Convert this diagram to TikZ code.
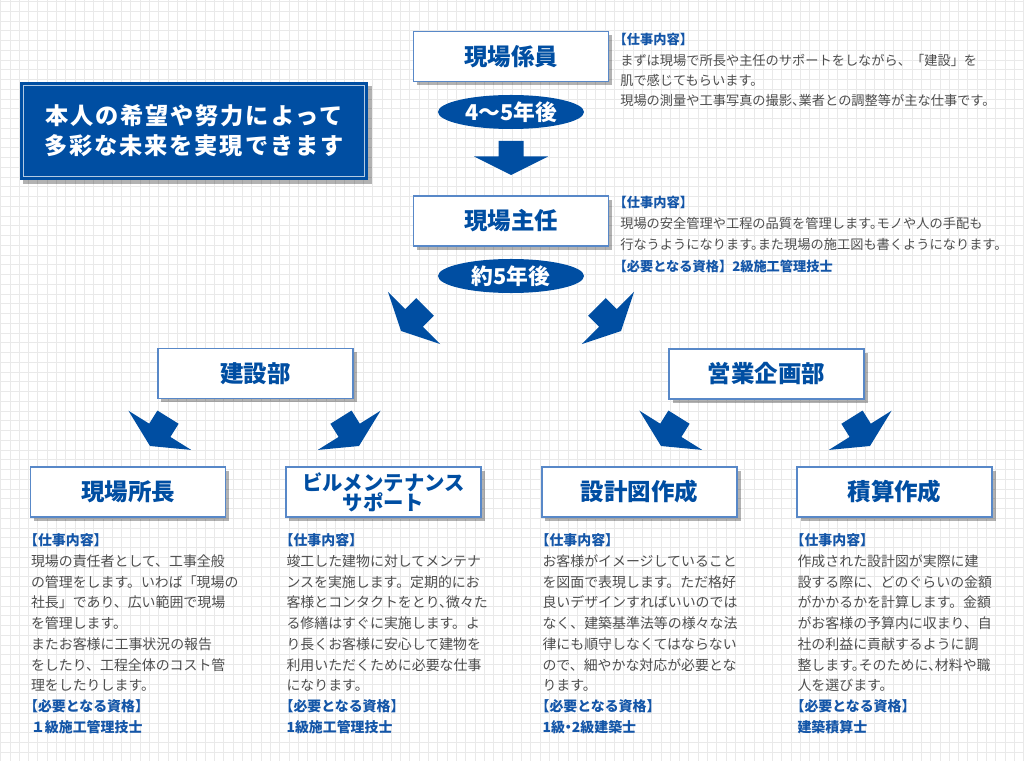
\documentclass[tikz,border=0pt]{standalone}
\usepackage{fontspec}
\setmainfont{Noto Sans CJK JP}
\usetikzlibrary{calc,shapes.geometric,shadows}

\definecolor{mainblue}{RGB}{0,78,162}
\definecolor{boxline}{RGB}{88,136,200}
\definecolor{bodygray}{RGB}{78,78,78}
\definecolor{labelblue}{RGB}{20,86,168}
\definecolor{gridgray}{RGB}{233,233,233}

%% blue headings inside the text blocks
\newcommand{\lbl}[1]{{\color{labelblue}\bfseries\addfontfeature{RawFeature=+halt}#1}}
%% line with half-width punctuation
\newcommand{\tight}[1]{{\addfontfeature{RawFeature=+halt}#1}}

%% fan-shaped block arrow: tip at #1, pointing to angle #2
\newcommand{\fanarrow}[2]{%
  \fill[mainblue, shift={#1}, rotate=#2]
    (0,0) -- (-18.5,37) -- (-18.5,12.5) -- (-34,12.5)
    -- (-34,-12.5) -- (-18.5,-12.5) -- (-18.5,-37) -- cycle;}

\tikzset{
  gridline/.style={gridgray, line width=0.7pt},
  jobbox/.style={draw=boxline, line width=1pt, fill=white,
    minimum width=4.875cm, minimum height=1.25cm, inner sep=0pt,
    text=mainblue, font=\fontsize{16.7pt}{18pt}\selectfont\bfseries,
    drop shadow={shadow xshift=2.5pt, shadow yshift=-2.5pt,
      opacity=0.3, fill=black}},
  yearpill/.style={ellipse, fill=mainblue, inner sep=0pt,
    minimum width=3.65cm, minimum height=0.85cm,
    text=white, font=\fontsize{15.5pt}{16pt}\selectfont\bfseries},
  topline/.style={anchor=base west, inner sep=0pt, text=bodygray,
    font=\fontsize{9.4pt}{11pt}\selectfont},
  lowline/.style={anchor=base west, inner sep=0pt, text=bodygray,
    font=\fontsize{9.9pt}{11pt}\selectfont},
}

\begin{document}
\begin{tikzpicture}[x=0.025cm, y=-0.025cm]
  \useasboundingbox (0,0) rectangle (1024,761);
  \fill[white] (0,0) rectangle (1024,761);

  %% background grid
  \foreach \k in {0,...,110}
    \draw[gridline] ({0.7+9.3*\k},0) -- ({0.7+9.3*\k},761);
  \foreach \k in {0,...,78}
    \draw[gridline] (0,{1.7+9.75*\k}) -- (1024,{1.7+9.75*\k});

  %% message panel (top left)
  \node[fill=mainblue, minimum width=8.7cm, minimum height=2.45cm,
    drop shadow={shadow xshift=2.5pt, shadow yshift=-2.5pt,
      opacity=0.3, fill=black}] (banner) at (194,131) {};
  \draw[white!70!mainblue, line width=0.5pt]
    ($(banner.north west)+(4,4)$) rectangle ($(banner.south east)+(-4,-4)$);
  \node[text=white, align=center,
    font=\fontsize{16.5pt}{21.3pt}\selectfont\bfseries\addfontfeature{LetterSpace=8}]
    (message) at (banner.center) {本人の希望や努力によって\\多彩な未来を実現できます};

  %% career steps
  \node[jobbox] (kakari) at (511,56.5) {現場係員};
  \node[yearpill] (after45) at (511,112) {4～5年後};
  \coordinate (downtip) at ($(after45.center)+(0,63)$);
  \fanarrow{(downtip)}{270}
  \node[jobbox] (shunin) at (511,221) {現場主任};
  \node[yearpill] (after5) at (511,276) {約5年後};

  % split towards the two departments
  \coordinate (splitL) at ($(after5.center)+(-110,55)$);
  \coordinate (splitR) at ($(after5.center)+(110,55)$);
  \fanarrow{(splitL)}{225}
  \fanarrow{(splitR)}{315}

  %% job descriptions of the first two steps
  \foreach \txt [count=\k from 0] in {{\lbl{【仕事内容】}},
      {まずは現場で所長や主任のサポートをしながら、「建設」を},
      {肌で感じてもらいます。},
      {\tight{現場の測量や工事写真の撮影、業者との調整等が主な仕事です。}}}
    \node[topline] (kakari-t\k) at (620,{45+20.3*\k}) {\txt};
  \foreach \txt [count=\k from 0] in {{\lbl{【仕事内容】}},
      {\tight{現場の安全管理や工程の品質を管理します。モノや人の手配も}},
      {\tight{行なうようになります。また現場の施工図も書くようになります。}},
      {\lbl{【必要となる資格}{\color{labelblue}\bfseries 】2級施工管理技士}}}
    \node[topline] (shunin-t\k) at (620,{208+20.6*\k+1.5*(\k>2)}) {\txt};

  %% departments
  \node[jobbox] (kensetsu) at (255.5,373.5) {建設部};
  \node[jobbox] (eigyo) at (766.5,374) {営業企画部};

  \coordinate (kensetsuL) at ($(kensetsu.center)+(-105.5,72.5)$);
  \coordinate (kensetsuR) at ($(kensetsu.center)+(103.5,72.5)$);
  \coordinate (eigyoL) at ($(eigyo.center)+(-105.5,72)$);
  \coordinate (eigyoR) at ($(eigyo.center)+(103.5,72)$);
  \fanarrow{(kensetsuL)}{238}
  \fanarrow{(kensetsuR)}{302}
  \fanarrow{(eigyoL)}{238}
  \fanarrow{(eigyoR)}{302}

  %% final positions
  \node[jobbox] (shocho) at (128,492) {現場所長};
  \node[jobbox, align=center, font=\fontsize{14.5pt}{14.4pt}\selectfont\bfseries]
    (biru) at (383.5,492) {ビルメンテナンス\\サポート};
  \node[jobbox] (sekkei) at (639.5,492) {設計図作成};
  \node[jobbox] (sekisan) at (894.5,492) {積算作成};

  \foreach \txt [count=\k from 0] in {{\lbl{【仕事内容】}},
      {現場の責任者として、工事全般},
      {の管理をします。いわば「現場の},
      {社長」であり、広い範囲で現場},
      {を管理します。},
      {またお客様に工事状況の報告},
      {をしたり、工程全体のコスト管},
      {理をしたりします。},
      {\lbl{【必要となる資格】}},
      {\lbl{１級施工管理技士}}}
    \node[lowline] (shocho-t\k) at ($(shocho.south west)+(1,{28+20.75*\k})$) {\txt};

  \foreach \txt [count=\k from 0] in {{\lbl{【仕事内容】}},
      {竣工した建物に対してメンテナ},
      {ンスを実施します。定期的にお},
      {\tight{客様とコンタクトをとり、微々た}},
      {る修繕はすぐに実施します。よ},
      {り長くお客様に安心して建物を},
      {利用いただくために必要な仕事},
      {になります。},
      {\lbl{【必要となる資格】}},
      {\lbl{1級施工管理技士}}}
    \node[lowline] (biru-t\k) at ($(biru.south west)+(1,{28+20.75*\k})$) {\txt};

  \foreach \txt [count=\k from 0] in {{\lbl{【仕事内容】}},
      {お客様がイメージしていること},
      {を図面で表現します。ただ格好},
      {良いデザインすればいいのでは},
      {なく、建築基準法等の様々な法},
      {律にも順守しなくてはならない},
      {ので、細やかな対応が必要とな},
      {ります。},
      {\lbl{【必要となる資格】}},
      {\lbl{1級・2級建築士}}}
    \node[lowline] (sekkei-t\k) at ($(sekkei.south west)+(1,{28+20.75*\k})$) {\txt};

  \foreach \txt [count=\k from 0] in {{\lbl{【仕事内容】}},
      {作成された設計図が実際に建},
      {設する際に、どのぐらいの金額},
      {がかかるかを計算します。金額},
      {がお客様の予算内に収まり、自},
      {社の利益に貢献するように調},
      {\tight{整します。そのために、材料や職}},
      {人を選びます。},
      {\lbl{【必要となる資格】}},
      {\lbl{建築積算士}}}
    \node[lowline] (sekisan-t\k) at ($(sekisan.south west)+(1,{28+20.75*\k})$) {\txt};
\end{tikzpicture}
\end{document}
